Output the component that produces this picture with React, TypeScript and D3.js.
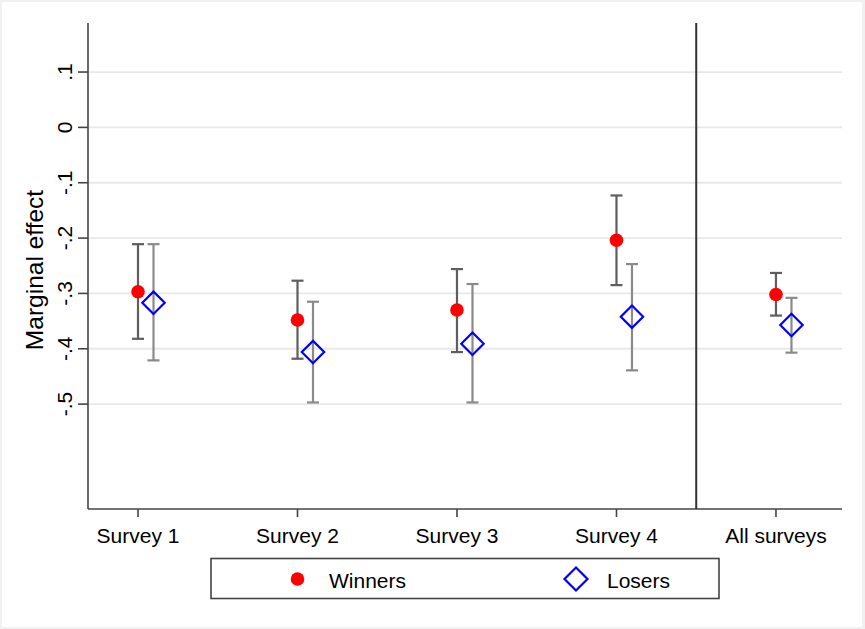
import React, { useEffect, useRef } from "react";
import * as d3 from "d3";

const categories = ["Survey 1", "Survey 2", "Survey 3", "Survey 4", "All surveys"];
const winnersEst = [-0.297, -0.348, -0.33, -0.204, -0.302];
const winnersLo = [-0.382, -0.418, -0.406, -0.285, -0.34];
const winnersHi = [-0.211, -0.277, -0.256, -0.123, -0.263];
const losersEst = [-0.317, -0.406, -0.391, -0.342, -0.357];
const losersLo = [-0.421, -0.497, -0.497, -0.439, -0.407];
const losersHi = [-0.211, -0.315, -0.283, -0.247, -0.308];
const yTicks = [0.1, 0, -0.1, -0.2, -0.3, -0.4, -0.5];
const separatorAt = 4.5;

const W = 865;
const H = 629;
const FONT = "'Liberation Sans', Arial, Helvetica, sans-serif";

// Stata style: ".1", "0", "-.1"
const fmtTick = (d: number) =>
  d === 0 ? "0" : (d < 0 ? "-" : "") + "." + Math.round(Math.abs(d) * 10);

const App: React.FC = () => {
  const ref = useRef<SVGSVGElement>(null);

  useEffect(() => {
    const svg = d3.select(ref.current);
    svg.selectAll("*").remove();

    const left = 88;
    const right = 842;
    const top = 23;
    const bottom = 509;
    const dodge = 15.5;

    const x = d3.scaleLinear().domain([0.6865, 5.414]).range([left, right]);
    const y = d3.scaleLinear().domain([-0.6895, 0.1886]).range([bottom, top]);

    svg.append("rect").attr("width", W).attr("height", H).attr("fill", "#f1f1f1");
    svg
      .append("rect")
      .attr("x", 2)
      .attr("y", 2)
      .attr("width", 860)
      .attr("height", 625)
      .attr("fill", "#ffffff");

    // grid
    svg
      .append("g")
      .selectAll("line")
      .data(yTicks)
      .enter()
      .append("line")
      .attr("x1", left)
      .attr("x2", right)
      .attr("y1", (d) => y(d))
      .attr("y2", (d) => y(d))
      .attr("stroke", "#e8e8e8")
      .attr("stroke-width", 1.8);

    // y axis
    const ya = svg.append("g");
    ya.append("line")
      .attr("x1", left)
      .attr("x2", left)
      .attr("y1", top)
      .attr("y2", bottom)
      .attr("stroke", "#444")
      .attr("stroke-width", 1.6);
    ya.selectAll(".tk")
      .data(yTicks)
      .enter()
      .append("line")
      .attr("x1", left - 10)
      .attr("x2", left)
      .attr("y1", (d) => y(d))
      .attr("y2", (d) => y(d))
      .attr("stroke", "#444")
      .attr("stroke-width", 1.6);
    ya.selectAll(".lb")
      .data(yTicks)
      .enter()
      .append("text")
      .attr("transform", (d) => `translate(72,${y(d)})rotate(-90)`)
      .attr("text-anchor", "middle")
      .style("font-family", FONT)
      .style("font-size", "21px")
      .attr("fill", "#000")
      .text((d) => fmtTick(d));

    svg
      .append("text")
      .attr("transform", `translate(43,270)rotate(-90)`)
      .attr("text-anchor", "middle")
      .style("font-family", FONT)
      .style("font-size", "24.5px")
      .attr("fill", "#000")
      .text("Marginal effect");

    // x axis
    const xa = svg.append("g");
    xa.append("line")
      .attr("x1", left)
      .attr("x2", right)
      .attr("y1", bottom)
      .attr("y2", bottom)
      .attr("stroke", "#444")
      .attr("stroke-width", 1.6);
    xa.selectAll(".tk")
      .data(categories)
      .enter()
      .append("line")
      .attr("x1", (_, i) => x(i + 1))
      .attr("x2", (_, i) => x(i + 1))
      .attr("y1", bottom)
      .attr("y2", bottom + 8)
      .attr("stroke", "#444")
      .attr("stroke-width", 1.6);
    xa.selectAll(".lb")
      .data(categories)
      .enter()
      .append("text")
      .attr("x", (_, i) => x(i + 1))
      .attr("y", 543)
      .attr("text-anchor", "middle")
      .style("font-family", FONT)
      .style("font-size", "21px")
      .attr("fill", "#000")
      .text((d) => d);

    // separator
    svg
      .append("line")
      .attr("x1", x(separatorAt))
      .attr("x2", x(separatorAt))
      .attr("y1", top)
      .attr("y2", bottom)
      .attr("stroke", "#333")
      .attr("stroke-width", 2);

    const drawBars = (
      lo: number[],
      hi: number[],
      dx: number,
      color: string
    ) => {
      const g = svg.append("g").attr("stroke", color).attr("stroke-width", 2.2);
      categories.forEach((_, i) => {
        const cx = x(i + 1) + dx;
        g.append("line").attr("x1", cx).attr("x2", cx).attr("y1", y(hi[i])).attr("y2", y(lo[i]));
        g.append("line").attr("x1", cx - 6).attr("x2", cx + 6).attr("y1", y(hi[i])).attr("y2", y(hi[i]));
        g.append("line").attr("x1", cx - 6).attr("x2", cx + 6).attr("y1", y(lo[i])).attr("y2", y(lo[i]));
      });
    };

    drawBars(winnersLo, winnersHi, 0, "#5e5e5e");
    drawBars(losersLo, losersHi, dodge, "#8a8a8a");

    const diamond = (cx: number, cy: number, r: number) =>
      `M${cx},${cy - r}L${cx + r},${cy}L${cx},${cy + r}L${cx - r},${cy}Z`;

    svg
      .append("g")
      .selectAll("circle")
      .data(winnersEst)
      .enter()
      .append("circle")
      .attr("cx", (_, i) => x(i + 1))
      .attr("cy", (d) => y(d))
      .attr("r", 6.8)
      .attr("fill", "#ff0000");

    svg
      .append("g")
      .selectAll("path")
      .data(losersEst)
      .enter()
      .append("path")
      .attr("d", (d, i) => diamond(x(i + 1) + dodge, y(d), 11.2))
      .attr("fill", "none")
      .attr("stroke", "#0000ff")
      .attr("stroke-width", 2.2);

    // legend
    const lg = svg.append("g");
    lg.append("rect")
      .attr("x", 211)
      .attr("y", 558.5)
      .attr("width", 508)
      .attr("height", 40)
      .attr("fill", "#fff")
      .attr("stroke", "#444")
      .attr("stroke-width", 1.6);
    lg.append("circle").attr("cx", 297.5).attr("cy", 579).attr("r", 6.8).attr("fill", "#ff0000");
    lg.append("text")
      .attr("x", 329)
      .attr("y", 587.5)
      .style("font-family", FONT)
      .style("font-size", "21px")
      .attr("fill", "#000")
      .text("Winners");
    lg.append("path")
      .attr("d", diamond(576, 579, 11.5))
      .attr("fill", "none")
      .attr("stroke", "#0000ff")
      .attr("stroke-width", 2.2);
    lg.append("text")
      .attr("x", 607)
      .attr("y", 587.5)
      .style("font-family", FONT)
      .style("font-size", "21px")
      .attr("fill", "#000")
      .text("Losers");
  }, []);

  return (
    <svg
      ref={ref}
      width={W}
      height={H}
      style={{ position: "absolute", left: 0, top: 0, display: "block" }}
    />
  );
};

export default App;
